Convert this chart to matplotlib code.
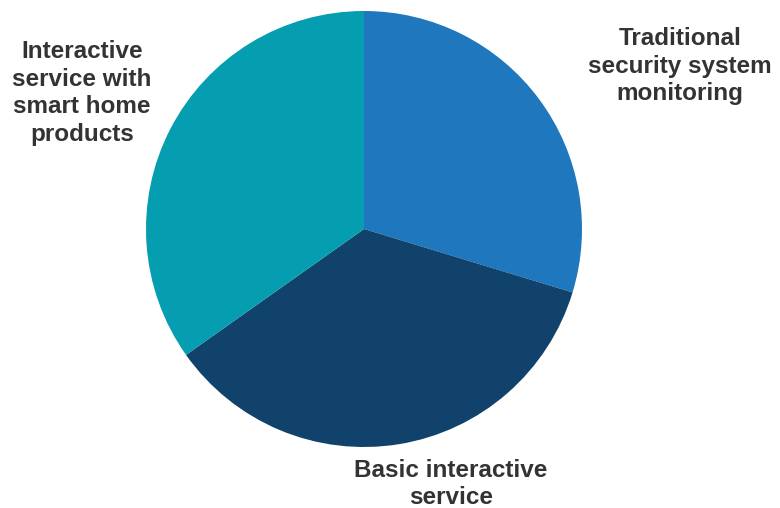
import matplotlib
matplotlib.use('Agg')
from matplotlib import pyplot as plt

labels = ['Traditional\nsecurity system\nmonitoring',
          'Basic interactive\nservice',
          'Interactive\nservice with\nsmart home\nproducts']
shares = [29.7, 35.5, 34.8]
colors = ['#1F77BD', '#10426C', '#049EB0']

# label centres in pixels (x, y from top)
label_pos = [(680, 66), (451, 484), (82, 93)]

W, H = 780, 508
fig = plt.figure(figsize=(W / 100, H / 100), dpi=100)

# pie centre (364, 229), radius 218 px
cx, cy, r = 364, 229, 218
ax = fig.add_axes([(cx - r) / W, (H - cy - r) / H, 2 * r / W, 2 * r / H])
ax.pie(shares, colors=colors, startangle=90, counterclock=False, radius=1,
       wedgeprops=dict(linewidth=0))
ax.set_xlim(-1, 1)
ax.set_ylim(-1, 1)
ax.set_aspect('equal')
ax.axis('off')

for text, (x, y) in zip(labels, label_pos):
    fig.text(x / W, 1 - y / H, text, ha='center', va='center',
             fontsize=17.5, fontweight='bold', color='#333333',
             family='Liberation Sans', linespacing=1.26)

fig.savefig('out.png', dpi=100)
